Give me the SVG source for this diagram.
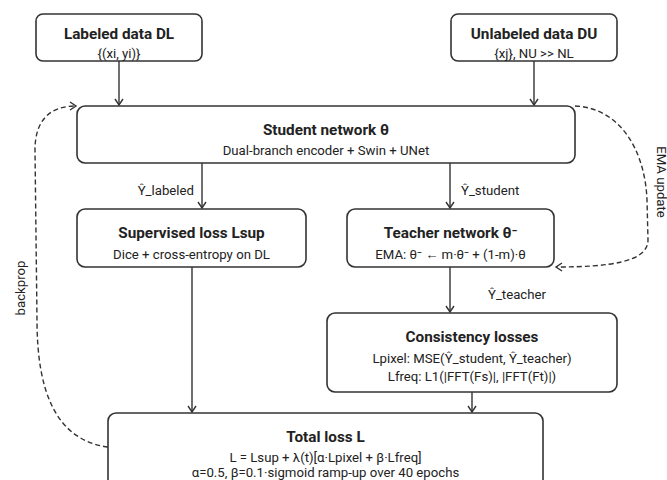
<svg xmlns="http://www.w3.org/2000/svg" width="667" height="480" viewBox="0 0 667 480">
<style>
.box{fill:#fff;stroke:#333;stroke-width:1.6}
.t{font-family:Roboto,"Liberation Sans",sans-serif;font-weight:bold;font-size:15.3px;fill:#222;text-anchor:middle;dominant-baseline:central}
.s{font-family:Roboto,"Liberation Sans",sans-serif;font-size:13.2px;fill:#222;text-anchor:middle;dominant-baseline:central}
.l{font-family:Roboto,"Liberation Sans",sans-serif;font-size:13.2px;fill:#222;dominant-baseline:central}
.c{fill:none;stroke:#333;stroke-width:1.4}
.d{fill:none;stroke:#333;stroke-width:1.4;stroke-dasharray:5 3}
</style>
<defs>
<marker id="ah" markerWidth="10" markerHeight="10" refX="8" refY="5" orient="auto" markerUnits="userSpaceOnUse">
<path d="M2,1 L8,5 L2,9" fill="none" stroke="#333" stroke-width="1.4"/>
</marker>
</defs>
<rect width="667" height="480" fill="#fff"/>
<g id="connectors">
<line class="c" x1="119" y1="61" x2="119" y2="105" marker-end="url(#ah)"/>
<line class="c" x1="534" y1="61" x2="534" y2="105" marker-end="url(#ah)"/>
<line class="c" x1="202" y1="163" x2="202" y2="208" marker-end="url(#ah)"/>
<line class="c" x1="450" y1="163" x2="450" y2="208" marker-end="url(#ah)"/>
<line class="c" x1="450" y1="267" x2="450" y2="312" marker-end="url(#ah)"/>
<line class="c" x1="192" y1="267" x2="192" y2="412" marker-end="url(#ah)"/>
<line class="c" x1="472" y1="392" x2="472" y2="412" marker-end="url(#ah)"/>
<path class="d" d="M108,447 C55,440 37,390 37,320 L35,150 C35,120 50,106 76,106" marker-end="url(#ah)"/>
<path class="d" d="M575,106 C620,108 645,150 647,200 L648,240 C648,262 610,267 556,267" marker-end="url(#ah)"/>
<text class="l" x="194" y="190" text-anchor="end">Ŷ_labeled</text>
<text class="l" x="461" y="190">Ŷ_student</text>
<text class="l" x="488" y="294">Ŷ_teacher</text>
<text class="l" x="20" y="288" text-anchor="middle" transform="rotate(-90 20 288)">backprop</text>
<text class="l" x="661" y="182" text-anchor="middle" transform="rotate(90 661 182)">EMA update</text>
</g>
<g id="labeled">
<rect class="box" x="36" y="14" width="166" height="47" rx="7"/>
<text class="t" x="119" y="34">Labeled data DL</text>
<text class="s" x="119" y="53">{(xi, yi)}</text>
</g>
<g id="unlabeled">
<rect class="box" x="451" y="14" width="166" height="47" rx="7"/>
<text class="t" x="534" y="34">Unlabeled data DU</text>
<text class="s" x="534" y="53">{xj}, NU &gt;&gt; NL</text>
</g>
<g id="student">
<rect class="box" x="77" y="106" width="498" height="57" rx="8"/>
<text class="t" x="326" y="130">Student network θ</text>
<text class="s" x="326" y="150">Dual-branch encoder + Swin + UNet</text>
</g>
<g id="supervised">
<rect class="box" x="77" y="209" width="229" height="58" rx="8"/>
<text class="t" x="191.5" y="233">Supervised loss Lsup</text>
<text class="s" x="191.5" y="254">Dice + cross-entropy on DL</text>
</g>
<g id="teacher">
<rect class="box" x="347" y="209" width="207" height="58" rx="8"/>
<text class="t" x="450.5" y="233">Teacher network θ⁻</text>
<text class="s" x="450.5" y="254">EMA: θ⁻ ← m·θ⁻ + (1-m)·θ</text>
</g>
<g id="consistency">
<rect class="box" x="327" y="313" width="290" height="79" rx="8"/>
<text class="t" x="472" y="337">Consistency losses</text>
<text class="s" x="472" y="358">Lpixel: MSE(Ŷ_student, Ŷ_teacher)</text>
<text class="s" x="472" y="376">Lfreq: L1(|FFT(Fs)|, |FFT(Ft)|)</text>
</g>
<g id="total">
<rect class="box" x="108" y="413" width="435" height="85" rx="8"/>
<text class="t" x="325.5" y="437">Total loss L</text>
<text class="s" x="325.5" y="457">L = Lsup + λ(t)[α·Lpixel + β·Lfreq]</text>
<text class="s" x="325.5" y="472">α=0.5, β=0.1·sigmoid ramp-up over 40 epochs</text>
</g>
</svg>
